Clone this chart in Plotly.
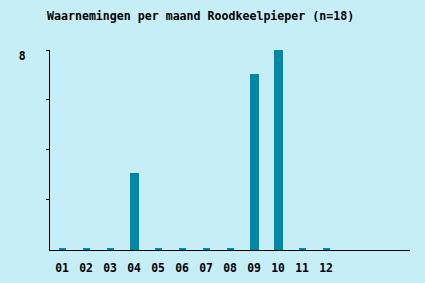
import plotly.graph_objects as go

months = ["01", "02", "03", "04", "05", "06", "07", "08", "09", "10", "11", "12"]
counts = [0, 0, 0, 3, 0, 0, 0, 0, 7, 8, 0, 0]
y_ticks = [2, 4, 6, 8]
y_ticktext = ["", "", "", "8"]
title_text = "Waarnemingen per maand Roodkeelpieper (n=18)"

BG = "#c6eef7"
BAR = "#0088a8"
FONT = "DejaVu Sans Mono"

positions = list(range(len(months)))

fig = go.Figure()
fig.add_trace(go.Bar(
    x=positions,
    y=counts,
    width=7 / 24,
    marker=dict(color=BAR, line=dict(color=BAR, width=2)),
))

fig.update_layout(
    width=425,
    height=283,
    paper_bgcolor=BG,
    plot_bgcolor=BG,
    margin=dict(l=50, r=15, t=50, b=33),
    showlegend=False,
    bargap=0,
    font=dict(family=FONT, size=11, color="black"),
    title=dict(
        text="<b>" + title_text + "</b>",
        xref="container", yref="container",
        x=47 / 425, xanchor="left",
        y=1 - 16 / 283, yanchor="middle",
        font=dict(family=FONT, size=11.6, color="black"),
    ),
)

fig.update_xaxes(
    range=[-0.5, 14.5],
    tickvals=positions,
    ticktext=["<b>" + m + "</b>" for m in months],
    showgrid=False,
    zeroline=False,
    showline=True,
    linecolor="black",
    linewidth=1,
    ticks="",
    ticklabelstandoff=7,
    automargin=False,
    tickfont=dict(family=FONT, size=11.4, color="black"),
)

fig.update_yaxes(
    range=[-0.05, 8],
    tickvals=y_ticks,
    ticktext=["<b>" + t + "</b>" if t else "" for t in y_ticktext],
    showgrid=False,
    zeroline=False,
    showline=True,
    linecolor="black",
    linewidth=1,
    ticks="outside",
    ticklen=3,
    tickcolor="black",
    ticklabelstandoff=18,
    ticklabelshift=6,
    automargin=False,
    tickfont=dict(family=FONT, size=11.4, color="black"),
)

fig.write_html("out.html")
